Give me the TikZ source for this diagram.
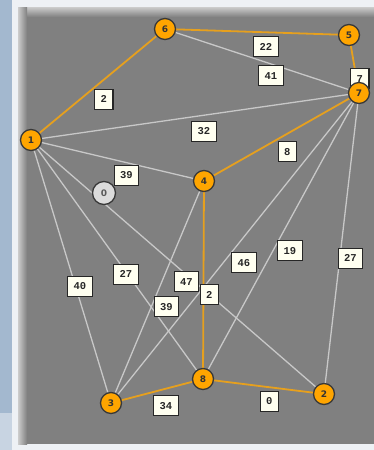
\documentclass[tikz,border=0pt]{standalone}
\usepackage{fontspec}
\newfontfamily\labelfont{Liberation Mono}
\newfontfamily\vertexfont{DejaVu Sans}
\definecolor{panelgray}{RGB}{128,128,128}
\definecolor{framewhite}{RGB}{238,241,245}
\definecolor{sideblue}{RGB}{163,184,207}
\definecolor{sidelight}{RGB}{200,212,226}
\definecolor{edgegray}{RGB}{200,200,200}
\definecolor{treeorange}{RGB}{230,160,30}
\definecolor{vertorange}{RGB}{255,165,0}
\definecolor{labelcream}{RGB}{255,255,240}
\pgfdeclarelayer{bg}
\pgfdeclarelayer{edges}
\pgfdeclarelayer{labels}
\pgfsetlayers{bg,edges,labels,main}

\begin{document}
\begin{tikzpicture}[x=1pt,y=-1pt,
    vertex/.style={circle, draw=black!78, fill=vertorange, line width=1.3pt,
      minimum size=21pt, inner sep=0pt, text=black!80,
      font=\vertexfont\bfseries\fontsize{9}{9}\selectfont},
    spare/.style={vertex, fill=black!14, minimum size=23pt, text=black!65},
    wlabel/.style={draw=black!85, fill=labelcream, line width=1.2pt,
      inner xsep=6pt, inner ysep=0pt, minimum height=20pt, text=black!85,
      font=\labelfont\bfseries\fontsize{10.5}{10.5}\selectfont,
      anchor=north west, xshift=-4pt, yshift=-4pt},
    lite/.style={edgegray, line width=1.3pt},
    tree/.style={treeorange, line width=1.8pt}]
  \useasboundingbox (0,0) rectangle (374,450);
  % panel and frame
  \begin{pgfonlayer}{bg}
    \fill[sideblue] (0,0) rectangle (12,450);
    \fill[sidelight] (0,413) rectangle (12,450);
    \fill[framewhite] (12,0) rectangle (374,450);
    \fill[panelgray] (18,7) rectangle (374,444);
    \shade[top color=black!20, bottom color=panelgray] (18,7) rectangle (374,17);
    \shade[left color=black!20, right color=panelgray] (18,7) rectangle (27,444);
  \end{pgfonlayer}
  % vertices
  \node[vertex] (n1) at (31,140) {1};
  \node[vertex] (n2) at (324,394) {2};
  \node[vertex] (n3) at (111,403) {3};
  \node[vertex] (n4) at (204,181) {4};
  \node[vertex] (n5) at (349,35) {5};
  \node[vertex] (n6) at (165,29) {6};
  \node[vertex] (n7) at (359,93) {7};
  \node[vertex] (n8) at (203,379) {8};
  \node[spare] (n0) at (104,193) {0};
  % remaining edges
  \foreach \a/\b/\w in {6/7/41, 1/7/32, 1/4/39, 1/3/40, 1/8/27, 1/2/47,
                        3/4/39, 3/7/46, 8/7/19, 2/7/27} {
    \begin{pgfonlayer}{edges}\draw[lite] (n\a) -- (n\b);\end{pgfonlayer}
    \begin{pgfonlayer}{labels}\path (n\a) -- node[wlabel] {\w} (n\b);\end{pgfonlayer}
  }
  % spanning tree
  \foreach \a/\b/\w in {1/6/2, 6/5/22, 5/7/7, 7/4/8, 4/8/2, 3/8/34, 8/2/0} {
    \begin{pgfonlayer}{edges}\draw[tree] (n\a) -- (n\b);\end{pgfonlayer}
    \begin{pgfonlayer}{labels}\path (n\a) -- node[wlabel] {\w} (n\b);\end{pgfonlayer}
  }
\end{tikzpicture}
\end{document}
